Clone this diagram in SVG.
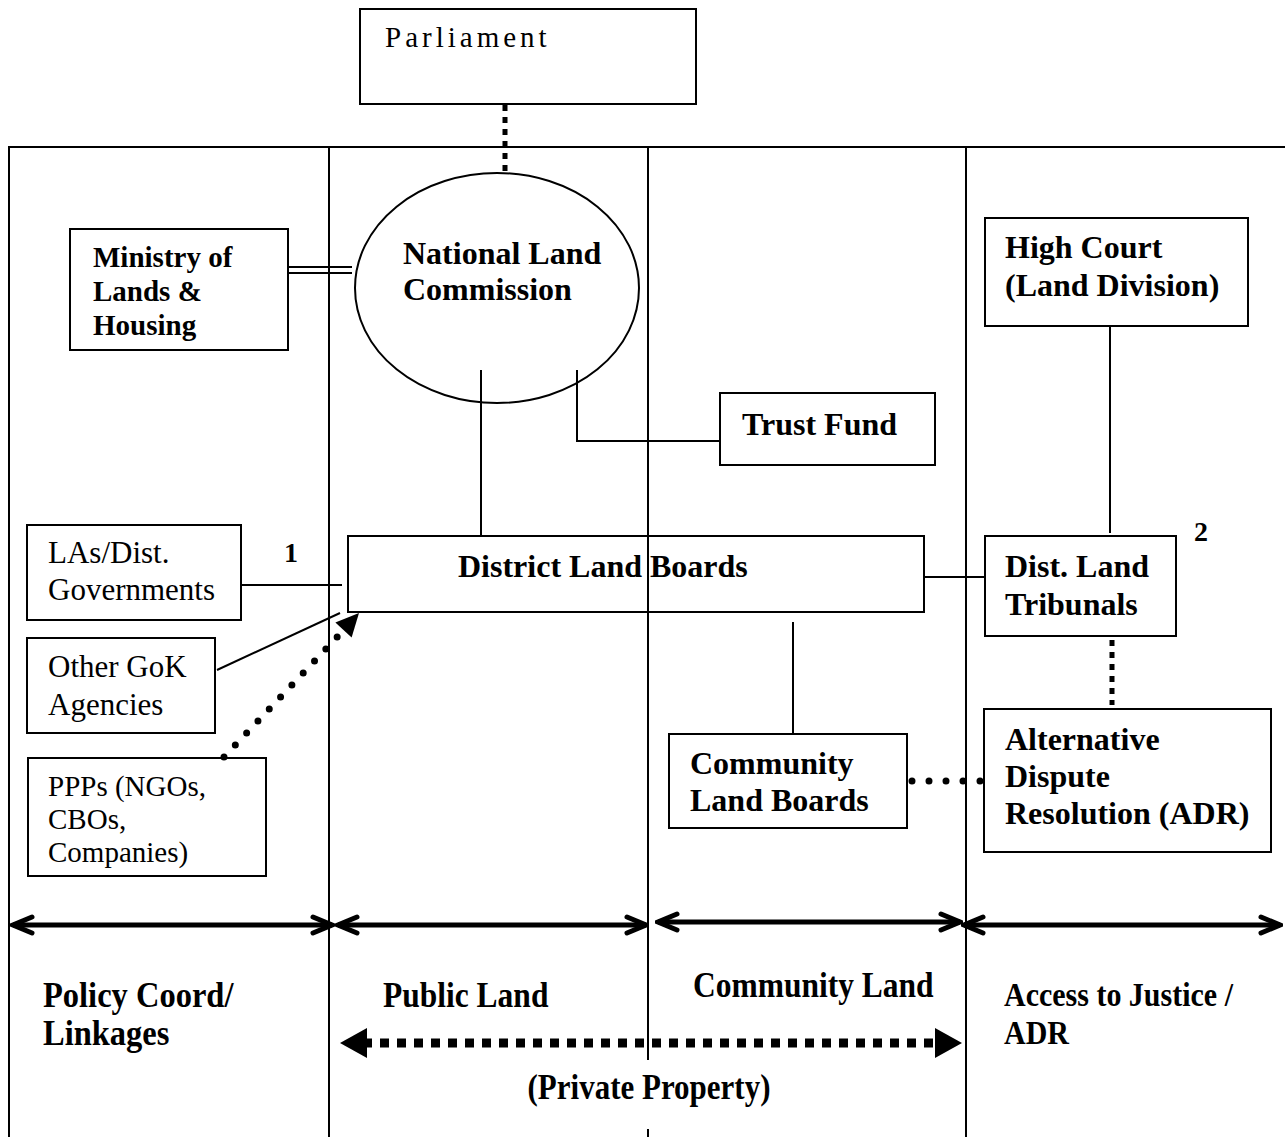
<svg xmlns="http://www.w3.org/2000/svg" width="1285" height="1137" viewBox="0 0 1285 1137">
<style>
.box{fill:#fff;stroke:#000;stroke-width:2}
.ln{fill:none;stroke:#000;stroke-width:2}
.frame{fill:none;stroke:#000;stroke-width:2}
.b{font-family:"Liberation Serif","Times New Roman",serif;font-weight:bold;font-size:32px;fill:#000}
.r{font-family:"Liberation Serif","Times New Roman",serif;font-size:31px;fill:#000}
.sq{fill:none;stroke:#000;stroke-width:5;stroke-dasharray:6 6}
.rd{fill:none;stroke:#000;stroke-width:7;stroke-linecap:round;stroke-dasharray:0 16.5}
.dbl{fill:none;stroke:#000;stroke-width:5}
</style>
<defs>
<marker id="chev" viewBox="-24 -11 27 22" markerWidth="27" markerHeight="22" refX="0" refY="0" orient="auto-start-reverse" markerUnits="userSpaceOnUse">
<path d="M-19,-8 L0,0 L-19,8" fill="none" stroke="#000" stroke-width="5" stroke-linecap="round" stroke-linejoin="miter"/>
</marker>
<marker id="tri" viewBox="-28 -16 29 32" markerWidth="29" markerHeight="32" refX="0" refY="0" orient="auto-start-reverse" markerUnits="userSpaceOnUse">
<path d="M0,0 L-27,-15 L-27,15 Z" fill="#000"/>
</marker>
<marker id="tri2" viewBox="-24 -12 25 24" markerWidth="25" markerHeight="24" refX="0" refY="0" orient="auto" markerUnits="userSpaceOnUse">
<path d="M0,0 L-23,-11 L-23,11 Z" fill="#000"/>
</marker>
</defs>

<g id="frame">
<line class="frame" x1="8" y1="147" x2="1285" y2="147"/>
<line class="frame" x1="9" y1="147" x2="9" y2="1137"/>
<line class="frame" x1="329" y1="147" x2="329" y2="1137"/>
<line class="frame" x1="966" y1="147" x2="966" y2="1137"/>
</g>

<g id="parliament">
<rect class="box" x="360" y="9" width="336" height="95"/>
<text class="r" x="385" y="47" style="font-size:29px;letter-spacing:4px">Parliament</text>
</g>

<g id="ministry">
<rect class="box" x="70" y="229" width="218" height="121"/>
<text class="b" x="93" y="267" style="font-size:29px">Ministry of</text>
<text class="b" x="93" y="301" style="font-size:29px">Lands &amp;</text>
<text class="b" x="93" y="335" style="font-size:29px">Housing</text>
</g>

<g id="nlc">
<ellipse class="box" cx="497" cy="288" rx="142" ry="115"/>
<text class="b" x="403" y="264">National Land</text>
<text class="b" x="403" y="300">Commission</text>
</g>

<g id="highcourt">
<rect class="box" x="985" y="218" width="263" height="108"/>
<text class="b" x="1005" y="258">High Court</text>
<text class="b" x="1005" y="296">(Land Division)</text>
</g>

<g id="trustfund">
<rect class="box" x="720" y="393" width="215" height="72"/>
<text class="b" x="742" y="435">Trust Fund</text>
</g>

<g id="dlb">
<rect class="box" x="348" y="536" width="576" height="76"/>
<text class="b" x="458" y="577">District Land Boards</text>
</g>

<g id="las">
<rect class="box" x="27" y="525" width="214" height="95"/>
<text class="r" x="48" y="563">LAs/Dist.</text>
<text class="r" x="48" y="600">Governments</text>
</g>

<text id="label1" class="b" x="284" y="562" style="font-size:28px">1</text>

<g id="othergok">
<rect class="box" x="27" y="638" width="188" height="95"/>
<text class="r" x="48" y="677">Other GoK</text>
<text class="r" x="48" y="715">Agencies</text>
</g>

<g id="ppps">
<rect class="box" x="28" y="758" width="238" height="118"/>
<text class="r" x="48" y="796" style="font-size:29px">PPPs (NGOs,</text>
<text class="r" x="48" y="829" style="font-size:29px">CBOs,</text>
<text class="r" x="48" y="862" style="font-size:29px">Companies)</text>
</g>

<g id="dlt">
<rect class="box" x="985" y="536" width="191" height="100"/>
<text class="b" x="1005" y="577">Dist. Land</text>
<text class="b" x="1005" y="615">Tribunals</text>
</g>

<text id="label2" class="b" x="1194" y="541" style="font-size:28px">2</text>

<g id="adr">
<rect class="box" x="984" y="709" width="287" height="143"/>
<text class="b" x="1005" y="750">Alternative</text>
<text class="b" x="1005" y="787">Dispute</text>
<text class="b" x="1005" y="824">Resolution (ADR)</text>
</g>

<g id="clb">
<rect class="box" x="669" y="734" width="238" height="94"/>
<text class="b" x="690" y="774">Community</text>
<text class="b" x="690" y="811">Land Boards</text>
</g>

<g id="connectors">
<line class="sq" x1="505" y1="105" x2="505" y2="174"/>
<line class="ln" x1="289" y1="267" x2="352" y2="267"/>
<line class="ln" x1="289" y1="273" x2="352" y2="273"/>
<line class="ln" x1="481" y1="370" x2="481" y2="536"/>
<polyline class="ln" points="577,370 577,441 720,441"/>
<line class="ln" x1="1110" y1="326" x2="1110" y2="533"/>
<line class="ln" x1="241" y1="585" x2="342" y2="585"/>
<line class="ln" x1="217" y1="670" x2="340" y2="613"/>
<line class="rd" x1="224" y1="757" x2="338" y2="636"/>
<line x1="338" y1="636" x2="359" y2="613" stroke="none" marker-end="url(#tri2)"/>
<line class="ln" x1="924" y1="577" x2="985" y2="577"/>
<line class="sq" x1="1112" y1="640" x2="1112" y2="705"/>
<line class="ln" x1="793" y1="622" x2="793" y2="734"/>
<line class="rd" x1="912" y1="781" x2="980" y2="781" style="stroke-dasharray:0 17"/>
<circle cx="980" cy="781" r="3.5" fill="#000"/>
<line class="dbl" x1="13" y1="925" x2="332" y2="925" marker-start="url(#chev)" marker-end="url(#chev)"/>
<line class="dbl" x1="338" y1="925" x2="646" y2="925" marker-start="url(#chev)" marker-end="url(#chev)"/>
<line class="dbl" x1="658" y1="922" x2="960" y2="922" marker-start="url(#chev)" marker-end="url(#chev)"/>
<line class="dbl" x1="964" y1="925" x2="1280" y2="925" marker-start="url(#chev)" marker-end="url(#chev)"/>
<line x1="363" y1="1043" x2="939" y2="1043" stroke="#000" stroke-width="9" stroke-dasharray="9 8"/>
<line x1="340" y1="1043" x2="962" y2="1043" stroke="none" marker-start="url(#tri)" marker-end="url(#tri)"/>
</g>

<g id="midline">
<line class="frame" x1="648" y1="147" x2="648" y2="1060"/>
<line class="frame" x1="648" y1="1129" x2="648" y2="1137"/>
</g>

<g id="labels">
<text class="b" transform="translate(43,1007) scale(1,1.1)" style="font-size:32.5px">Policy Coord/</text>
<text class="b" transform="translate(43,1045) scale(1,1.1)" style="font-size:32.5px">Linkages</text>
<text class="b" transform="translate(383,1007) scale(1,1.15)" style="font-size:31.5px">Public Land</text>
<text class="b" transform="translate(693,997) scale(1,1.15)" style="font-size:31.5px">Community Land</text>
<text class="b" transform="translate(1004,1006) scale(1,1.1)" style="font-size:30px">Access to Justice /</text>
<text class="b" transform="translate(1004,1044) scale(1,1.1)" style="font-size:30px">ADR</text>
<text class="b" transform="translate(649,1099) scale(1,1.15)" text-anchor="middle" style="font-size:31px">(Private Property)</text>
</g>
</svg>
